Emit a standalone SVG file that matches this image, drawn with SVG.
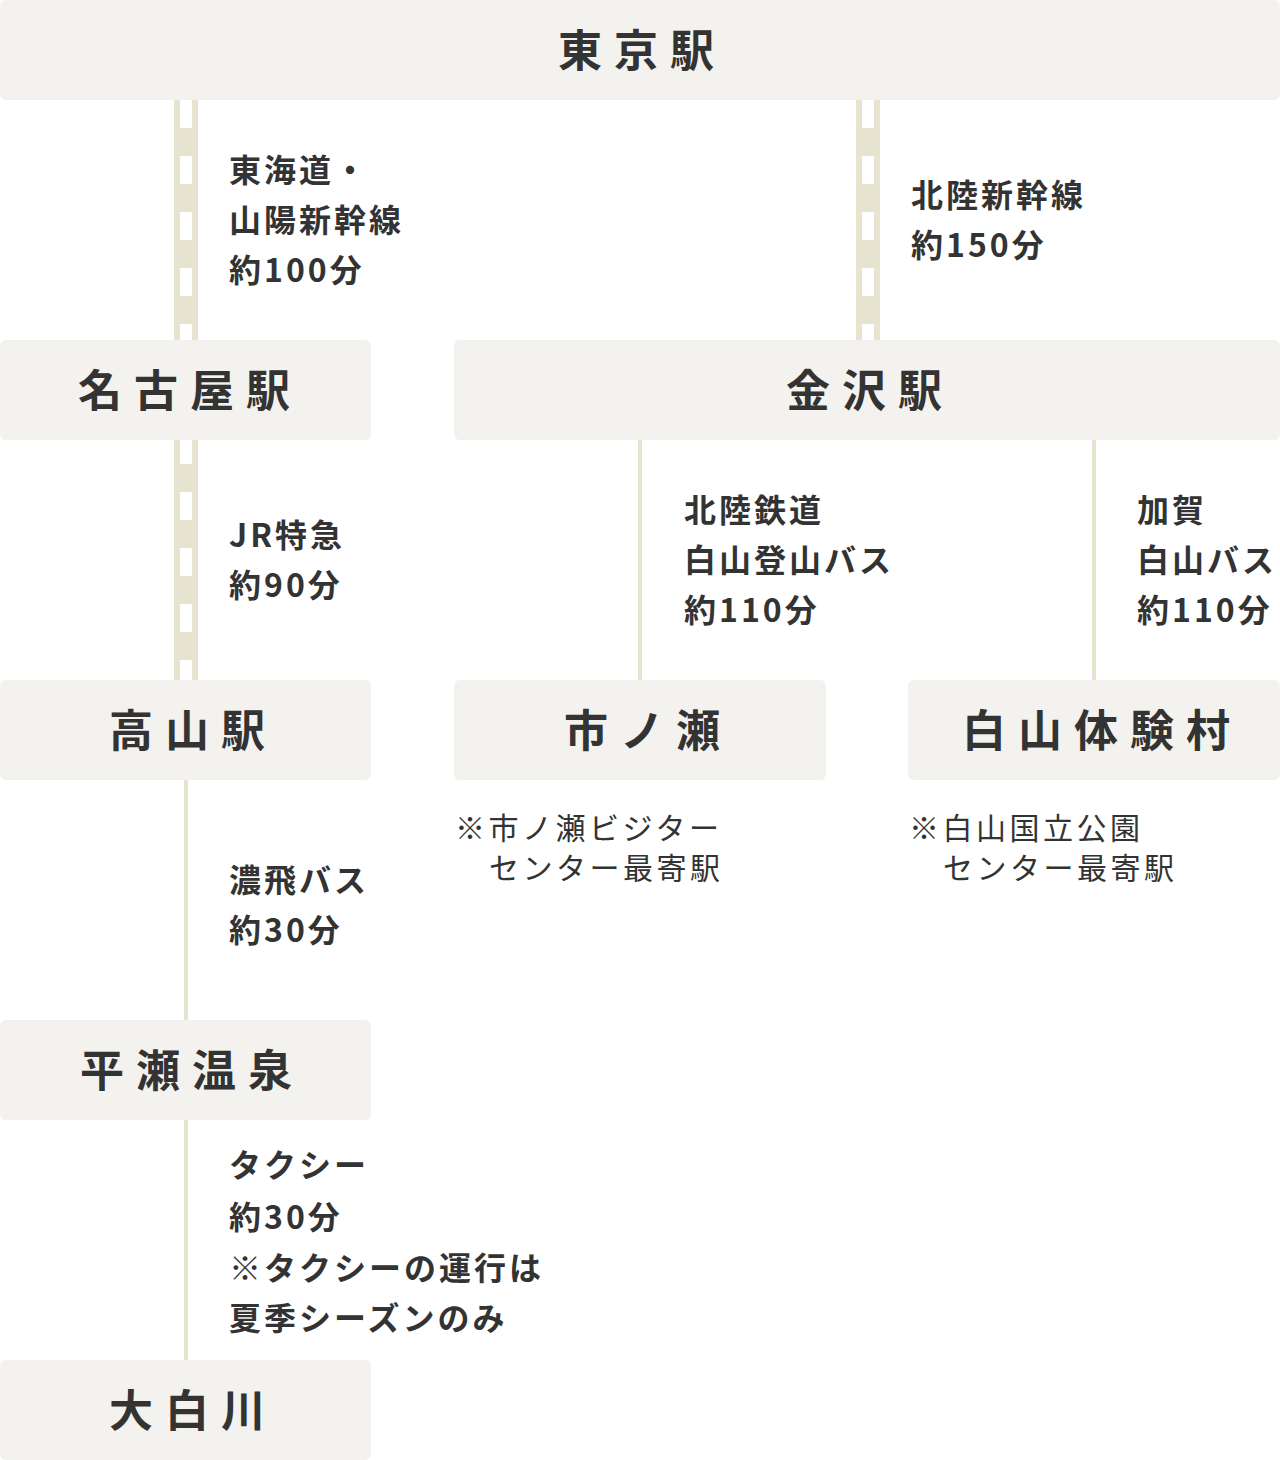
<svg xmlns="http://www.w3.org/2000/svg" width="1280" height="1460" viewBox="0 0 1280 1460">
<style>
.box{fill:#f3f2ee}
.title{font-family:"Noto Sans CJK JP","Noto Sans",sans-serif;font-weight:700;font-size:44px;letter-spacing:12px;fill:#333;text-anchor:middle}
.lbl{font-family:"Noto Sans CJK JP","Noto Sans",sans-serif;font-weight:700;font-size:32px;letter-spacing:3px;fill:#333}
.note{font-family:"Noto Sans CJK JP","Noto Sans",sans-serif;font-weight:400;font-size:30px;letter-spacing:3.5px;fill:#333}
.track{fill:#e6e3cf}
.ties{stroke:#fff;stroke-width:12;stroke-dasharray:28 28}
.line{stroke:#e6e3cf;stroke-width:4}
</style>
<rect width="1280" height="1460" fill="#fff"/>
<g id="connectors">
  <rect class="track" x="174" y="100" width="24" height="580"/>
  <line class="ties" x1="186" y1="100" x2="186" y2="680"/>
  <rect class="track" x="856" y="100" width="24" height="240"/>
  <line class="ties" x1="868" y1="100" x2="868" y2="340"/>
  <line class="line" x1="640" y1="440" x2="640" y2="680"/>
  <line class="line" x1="1094" y1="440" x2="1094" y2="680"/>
  <line class="line" x1="186" y1="780" x2="186" y2="1020"/>
  <line class="line" x1="186" y1="1120" x2="186" y2="1360"/>
</g>
<g id="labels">
  <text class="lbl" x="229" y="182">東海道・</text>
  <text class="lbl" x="229" y="232">山陽新幹線</text>
  <text class="lbl" x="229" y="282">約100分</text>
  <text class="lbl" x="911" y="207">北陸新幹線</text>
  <text class="lbl" x="911" y="257">約150分</text>
  <text class="lbl" x="229" y="547">JR特急</text>
  <text class="lbl" x="229" y="597">約90分</text>
  <text class="lbl" x="684" y="522">北陸鉄道</text>
  <text class="lbl" x="684" y="572">白山登山バス</text>
  <text class="lbl" x="684" y="622">約110分</text>
  <text class="lbl" x="1137" y="522">加賀</text>
  <text class="lbl" x="1137" y="572">白山バス</text>
  <text class="lbl" x="1137" y="622">約110分</text>
  <text class="lbl" x="229" y="892">濃飛バス</text>
  <text class="lbl" x="229" y="942">約30分</text>
  <text class="lbl" x="229" y="1177">タクシー</text>
  <text class="lbl" x="229" y="1229">約30分</text>
  <text class="lbl" x="229" y="1280">※タクシーの運行は</text>
  <text class="lbl" x="229" y="1330">夏季シーズンのみ</text>
  <text class="note" x="455" y="839">※市ノ瀬ビジター</text>
  <text class="note" x="489" y="879">センター最寄駅</text>
  <text class="note" x="909" y="839">※白山国立公園</text>
  <text class="note" x="943" y="879">センター最寄駅</text>
</g>
<g id="tokyo"><rect class="box" x="0" y="0" width="1280" height="100" rx="6"/><text class="title" x="642" y="67">東京駅</text></g>
<g id="nagoya"><rect class="box" x="0" y="340" width="371" height="100" rx="6"/><text class="title" x="190" y="407">名古屋駅</text></g>
<g id="kanazawa"><rect class="box" x="454" y="340" width="826" height="100" rx="6"/><text class="title" x="870" y="407">金沢駅</text></g>
<g id="takayama"><rect class="box" x="0" y="680" width="371" height="100" rx="6"/><text class="title" x="193" y="747">高山駅</text></g>
<g id="ichinose"><rect class="box" x="454" y="680" width="372" height="100" rx="6"/><text class="title" x="648" y="747">市ノ瀬</text></g>
<g id="hakusan-taikenmura"><rect class="box" x="908" y="680" width="372" height="100" rx="6"/><text class="title" x="1102" y="747">白山体験村</text></g>
<g id="hirase"><rect class="box" x="0" y="1020" width="371" height="100" rx="6"/><text class="title" x="192" y="1087">平瀬温泉</text></g>
<g id="ohshirakawa"><rect class="box" x="0" y="1360" width="371" height="100" rx="6"/><text class="title" x="193" y="1427">大白川</text></g>
</svg>
